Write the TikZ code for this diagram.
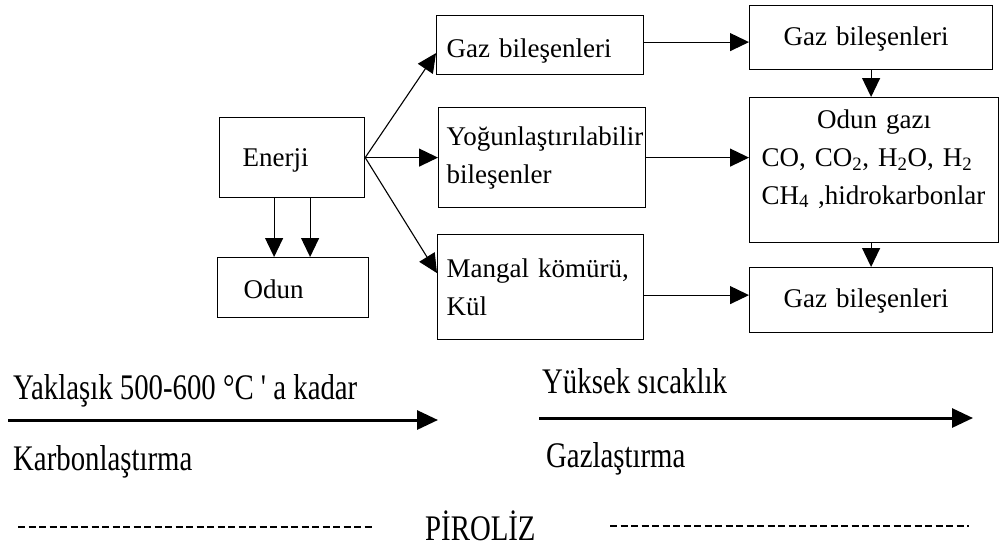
\documentclass[tikz,border=0pt]{standalone}
\usepackage{fontspec}
\setmainfont{Liberation Serif}
\usetikzlibrary{arrows.meta, positioning}
\newcommand{\narrowtext}[1]{\scalebox{0.8}[1]{#1}}
\tikzset{
Box/.style={
	draw, line width=1.2pt,
	anchor=north west,
	inner ysep=0pt,
	align=left,
	font=\fontsize{27}{38}\selectfont
},
Edge/.style={
	draw, line width=1.1pt,
	-{Triangle[length=19pt,width=18pt]}
},
BigEdge/.style={
	draw, line width=3pt,
	-{Triangle[length=21pt,width=19pt]}
},
Caption/.style={
	anchor=base west,
	inner sep=0pt,
	font=\fontsize{36}{42}\selectfont
},
DashLine/.style={
	draw, line width=1.3pt,
	dash pattern=on 7pt off 3.5pt
}
}

\begin{document}
\begin{tikzpicture}[x=1pt, y=-1pt]
	\useasboundingbox (0,0) rectangle (999,547);

	\node[Box, minimum width=145pt, minimum height=80pt, inner xsep=23pt, text width=99pt, text height=18pt, text depth=0pt] (enerji) at (219,117) {Enerji};
	\node[Box, minimum width=151pt, minimum height=60pt, inner xsep=26pt, text width=99pt, text height=22pt, text depth=0pt] (odun) at (217,257) {Odun};

	\node[Box, minimum width=207pt, minimum height=59pt, inner xsep=10pt, text width=187pt, text height=25pt, text depth=0pt] (gazA) at (436,15) {Gaz bileşenleri};
	\node[Box, minimum width=207pt, minimum height=100pt, inner xsep=8pt, text width=191pt] (yogun) at (438,107) {Yoğunlaştırılabilir\\bileşenler};
	\node[Box, minimum width=206pt, minimum height=105pt, inner xsep=9pt, text width=188pt] (mangal) at (437,234) {Mangal kömürü,\\Kül};

	\node[Box, minimum width=243pt, minimum height=64pt, inner xsep=34pt, text width=175pt, text height=16pt, text depth=0pt] (gazB) at (749,5) {Gaz bileşenleri};
	\node[Box, minimum width=249pt, minimum height=145pt, inner xsep=12pt, text width=225pt, text height=18pt, text depth=102pt] (odungazi) at (749,97) {{\centering Odun gazı\par}CO, CO\textsubscript{2}, H\textsubscript{2}O, H\textsubscript{2}\\CH\textsubscript{4}~,hidrokarbonlar};
	\node[Box, minimum width=243pt, minimum height=65pt, inner xsep=34pt, text width=175pt, text height=15pt, text depth=0pt] (gazC) at (749,267) {Gaz bileşenleri};

	\draw[Edge] (enerji.east) -- ([yshift=-8pt]gazA.west);
	\draw[Edge] (enerji.east) -- (yogun.west);
	\draw[Edge] (enerji.east) -- ([yshift=14pt]mangal.west);
	\draw[Edge] ([xshift=-18pt]enerji.south) -- ([xshift=-18pt]enerji.south |- odun.north);
	\draw[Edge] ([xshift=18pt]enerji.south) -- ([xshift=18pt]enerji.south |- odun.north);
	\draw[Edge] ([yshift=3pt]gazA.east) -- ([yshift=3pt]gazA.east -| gazB.west);
	\draw[Edge] (yogun.east) -- (yogun.east -| odungazi.west);
	\draw[Edge] ([yshift=-8pt]mangal.east) -- ([yshift=-8pt]mangal.east -| gazC.west);
	\draw[Edge] (gazB.south) -- (gazB.south |- odungazi.north);
	\draw[Edge] (gazC.north |- odungazi.south) -- (gazC.north);

	% process line
	\coordinate (karbonStart) at (8,420);
	\coordinate (karbonEnd) at (438,420);
	\coordinate (gazStart) at (539,418);
	\coordinate (gazEnd) at (973,418);
	\draw[BigEdge] (karbonStart) -- (karbonEnd);
	\draw[BigEdge] (gazStart) -- (gazEnd);

	\node[Caption] (yaklasik) at (13,399) {\narrowtext{Yaklaşık 500-600 °C \textquotesingle{} a kadar}};
	\node[Caption] (karbon) at (13,470) {\narrowtext{Karbonlaştırma}};
	\node[Caption] (yuksek) at (542,393) {\narrowtext{Yüksek sıcaklık}};
	\node[Caption] (gazlas) at (546,467) {\narrowtext{Gazlaştırma}};
	\node[Caption] (piroliz) at (425,540) {\narrowtext{PİROLİZ}};

	\coordinate (dashA1) at (18,527);
	\coordinate (dashA2) at (373,527);
	\coordinate (dashB1) at (610,526);
	\coordinate (dashB2) at (969,526);
	\draw[DashLine] (dashA1) -- (dashA2);
	\draw[DashLine] (dashB1) -- (dashB2);
\end{tikzpicture}
\end{document}
